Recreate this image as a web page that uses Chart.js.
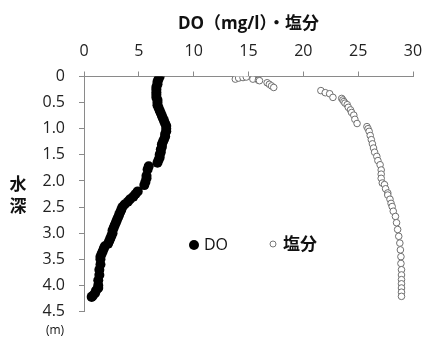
<!DOCTYPE html>
<html>
<head>
<meta charset="utf-8">
<script src="https://cdn.jsdelivr.net/npm/chart.js@4.4.0/dist/chart.umd.min.js"></script>
<style>
  html, body { margin: 0; padding: 0; background: #fff; }
  #wrap { position: relative; width: 426px; height: 345px; }
</style>
</head>
<body>
<div id="wrap"><canvas id="chart" width="426" height="345"></canvas></div>
<script>
// DO profile: depth (m) and DO (mg/l)
const doDepth = [0.00, 0.05, 0.10, 0.15, 0.20, 0.25, 0.30, 0.35, 0.40, 0.45, 0.50, 0.55, 0.60, 0.65, 0.70, 0.75,
  0.80, 0.85, 0.90, 0.95, 1.00, 1.05, 1.10, 1.15, 1.20, 1.25, 1.30, 1.35, 1.40, 1.45, 1.50, 1.55, 1.60, 1.65,
  1.72, 1.78, 1.90, 1.95, 2.02, 2.08, 2.20, 2.25, 2.30, 2.35, 2.40, 2.45, 2.50, 2.55, 2.60, 2.65, 2.70, 2.75,
  2.80, 2.85, 2.90, 2.95, 3.00, 3.05, 3.10, 3.15, 3.20, 3.25, 3.30, 3.35, 3.40, 3.45, 3.50, 3.60, 3.70, 3.80,
  3.90, 4.00, 4.05, 4.10, 4.15, 4.20, 4.22];
const doValues = [6.9, 6.8, 6.7, 6.7, 6.6, 6.6, 6.6, 6.6, 6.6, 6.7, 6.7, 6.7, 6.8, 6.9, 7.0, 7.1,
  7.2, 7.3, 7.4, 7.5, 7.5, 7.5, 7.4, 7.4, 7.3, 7.2, 7.1, 7.1, 7.0, 7.0, 6.9, 6.9, 6.8, 6.7,
  5.9, 5.8, 5.7, 5.7, 5.6, 5.5, 4.9, 4.7, 4.5, 4.2, 4.0, 3.7, 3.5, 3.4, 3.3, 3.2, 3.1, 3.0,
  2.9, 2.8, 2.7, 2.6, 2.6, 2.5, 2.4, 2.3, 2.2, 1.9, 1.8, 1.7, 1.6, 1.5, 1.5, 1.5, 1.4, 1.4,
  1.3, 1.3, 1.3, 1.1, 1.0, 0.8, 0.7];

// Salinity profile: depth (m) and salinity
const salDepth = [0.05, 0.03, 0.02, 0.01, 0.05, 0.07, 0.08, 0.12, 0.15, 0.18, 0.21,
  0.27, 0.31, 0.33, 0.40, 0.42, 0.45, 0.48, 0.51, 0.54, 0.59, 0.64, 0.69, 0.74, 0.82, 0.90,
  0.96, 1.00, 1.05, 1.13, 1.21, 1.29, 1.37, 1.45, 1.53, 1.61, 1.69, 1.79, 1.87, 1.95, 2.04,
  2.07, 2.15, 2.23, 2.27, 2.35, 2.43, 2.49, 2.58, 2.68, 2.80, 2.93, 3.06, 3.19, 3.32, 3.45,
  3.58, 3.70, 3.80, 3.89, 3.97, 4.05, 4.13, 4.21];
const salValues = [13.8, 14.1, 14.5, 14.8, 15.4, 15.9, 16.0, 16.7, 16.9, 17.1, 17.3,
  21.6, 22.0, 22.4, 22.7, 23.5, 23.6, 23.7, 23.8, 24.0, 24.1, 24.3, 24.4, 24.6, 24.7, 24.9,
  25.8, 25.9, 26.0, 26.1, 26.2, 26.3, 26.4, 26.5, 26.7, 26.8, 27.0, 27.1, 27.1, 27.1, 27.2,
  27.4, 27.5, 27.7, 27.7, 27.9, 28.0, 28.1, 28.2, 28.4, 28.5, 28.6, 28.7, 28.8, 28.85, 28.9,
  28.9, 28.95, 28.95, 28.95, 28.95, 28.95, 28.95, 28.95];

const xTicks = [0, 5, 10, 15, 20, 25, 30];
const yTicks = [0, 0.5, 1, 1.5, 2, 2.5, 3, 3.5, 4, 4.5];

const FONT = '"Open Sans", "Noto Sans CJK JP", sans-serif';
const JP_FONT = '"Noto Sans CJK JP", sans-serif';
const AXIS_GRAY = '#8a8a8a';

// legend + stacked y title drawn in the plot
const extraText = {
  id: 'extraText',
  afterDraw(chart) {
    const ctx = chart.ctx;
    ctx.save();
    ctx.textBaseline = 'middle';
    // legend
    ctx.fillStyle = '#000';
    ctx.beginPath();
    ctx.arc(194, 245, 5, 0, Math.PI * 2);
    ctx.fill();
    ctx.font = '16px ' + FONT;
    ctx.fillStyle = '#111';
    ctx.fillText('DO', 204, 245);
    ctx.beginPath();
    ctx.arc(273, 244, 3, 0, Math.PI * 2);
    ctx.fillStyle = '#fff';
    ctx.fill();
    ctx.strokeStyle = '#777';
    ctx.lineWidth = 1;
    ctx.stroke();
    ctx.font = 'bold 17px ' + JP_FONT;
    ctx.fillStyle = '#111';
    ctx.fillText('塩分', 283, 244);
    // y axis title, stacked
    ctx.textAlign = 'center';
    ctx.font = 'bold 17px ' + JP_FONT;
    ctx.fillText('水', 18, 184);
    ctx.fillText('深', 18, 206);
    ctx.font = '12px ' + FONT;
    ctx.fillText('(m)', 55, 331);
    ctx.restore();
  }
};

const ctx = document.getElementById('chart').getContext('2d');
new Chart(ctx, {
  type: 'scatter',
  data: {
    datasets: [{
      label: 'DO',
      data: doDepth.map((d, i) => ({ x: doValues[i], y: d })),
      backgroundColor: '#000',
      borderColor: '#000',
      pointRadius: 5,
      borderWidth: 0
    }, {
      label: '塩分',
      data: salDepth.map((d, i) => ({ x: salValues[i], y: d })),
      backgroundColor: '#fff',
      borderColor: '#6f6f6f',
      pointRadius: 3.3,
      borderWidth: 1
    }]
  },
  options: {
    responsive: false,
    animation: false,
    layout: { padding: { left: 0, top: 6, right: 13, bottom: 33.5 } },
    plugins: {
      legend: { display: false },
      tooltip: { enabled: false }
    },
    scales: {
      x: {
        type: 'linear',
        position: 'top',
        min: 0,
        max: 30,
        afterBuildTicks: s => { s.ticks = xTicks.map(v => ({ value: v })); },
        afterFit: s => { s.height = 70.5; s.paddingLeft = 0; s.paddingRight = 0; },
        title: {
          display: true,
          text: 'DO（mg/l）・塩分',
          color: '#111',
          font: { family: FONT, size: 17, weight: 'bold' },
          padding: { top: 8, bottom: 0 }
        },
        grid: { drawOnChartArea: false, drawTicks: true, tickLength: 5, color: AXIS_GRAY },
        border: { display: true, color: AXIS_GRAY, width: 1 },
        ticks: { color: '#222', padding: 10, font: { family: FONT, size: 16 } }
      },
      y: {
        type: 'linear',
        reverse: true,
        min: 0,
        max: 4.5,
        afterBuildTicks: s => { s.ticks = yTicks.map(v => ({ value: v })); },
        afterFit: s => { s.width = 84; s.paddingTop = 0; s.paddingBottom = 0; },
        grid: { drawOnChartArea: false, drawTicks: true, tickLength: 5, color: AXIS_GRAY },
        border: { display: true, color: AXIS_GRAY, width: 1 },
        ticks: { color: '#222', padding: 14, font: { family: FONT, size: 16 } }
      }
    }
  },
  plugins: [extraText]
});
</script>
</body>
</html>
